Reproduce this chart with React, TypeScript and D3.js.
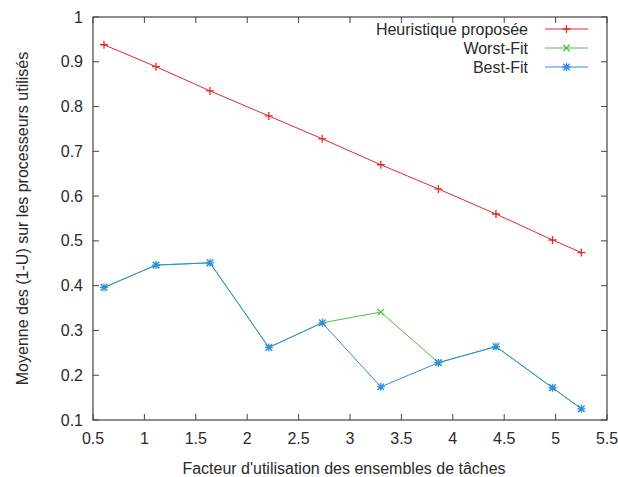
import React from "react";
import * as d3 from "d3";

const xValues = [0.607, 1.113, 1.638, 2.21, 2.73, 3.3, 3.86, 4.42, 4.97, 5.25];
const heuristique = [0.938, 0.889, 0.835, 0.779, 0.728, 0.670, 0.616, 0.560, 0.502, 0.474];
const worstFit = [0.396, 0.446, 0.451, 0.262, 0.317, 0.341, 0.228, 0.264, 0.172, 0.125];
const bestFit = [0.396, 0.446, 0.451, 0.262, 0.317, 0.174, 0.228, 0.264, 0.172, 0.125];
const xTicks = [0.5, 1, 1.5, 2, 2.5, 3, 3.5, 4, 4.5, 5, 5.5];
const yTicks = [0.1, 0.2, 0.3, 0.4, 0.5, 0.6, 0.7, 0.8, 0.9, 1];
const seriesNames = ["Heuristique proposée", "Worst-Fit", "Best-Fit"];
const seriesColors = ["#e3282b", "#4bbf45", "#2f8fe0"];
const markerTypes = ["plus", "cross", "star"];

const W = 618, H = 477;
const M = { left: 93, right: 11, top: 17, bottom: 57 };
const FONT = "'Liberation Sans', Arial, sans-serif";
const FS = 16;

function Marker({ type, x, y, color }: { type: string; x: number; y: number; color: string }) {
  const s = 4;
  const d: string[] = [];
  if (type === "plus" || type === "star") {
    d.push(`M${x - s},${y}H${x + s}M${x},${y - s}V${y + s}`);
  }
  if (type === "cross" || type === "star") {
    const c = s * 0.8;
    d.push(`M${x - c},${y - c}L${x + c},${y + c}M${x - c},${y + c}L${x + c},${y - c}`);
  }
  return <path d={d.join("")} stroke={color} strokeWidth={1.3} fill="none" />;
}

export default function App() {
  const x = d3.scaleLinear().domain([0.5, 5.5]).range([M.left, W - M.right]);
  const y = d3.scaleLinear().domain([0.1, 1]).range([H - M.bottom, M.top]);
  const series = [heuristique, worstFit, bestFit];
  const line = d3
    .line<number>()
    .x((_, i) => x(xValues[i]))
    .y((v) => y(v));
  const x0 = M.left, x1 = W - M.right, y0 = H - M.bottom, y1 = M.top;
  const tick = 6;
  const axisColor = "#444";
  const textColor = "#2a2a2a";
  return (
    <svg width={W} height={H} style={{ position: "absolute", left: 0, top: 0, background: "#fff" }} fontFamily={FONT}>
      <rect x={0} y={0} width={W} height={H} fill="#fff" />
      {xTicks.map((t) => (
        <g key={"xt" + t}>
          <line x1={x(t)} x2={x(t)} y1={y0} y2={y0 - tick} stroke={axisColor} />
          <line x1={x(t)} x2={x(t)} y1={y1} y2={y1 + tick} stroke={axisColor} />
          <text x={x(t)} y={y0 + 24} textAnchor="middle" fontSize={FS} fill={textColor}>
            {String(t)}
          </text>
        </g>
      ))}
      {yTicks.map((t) => (
        <g key={"yt" + t}>
          <line x1={x0} x2={x0 + tick} y1={y(t)} y2={y(t)} stroke={axisColor} />
          <line x1={x1} x2={x1 - tick} y1={y(t)} y2={y(t)} stroke={axisColor} />
          <text x={x0 - 10} y={y(t) + 5.5} textAnchor="end" fontSize={FS} fill={textColor}>
            {String(t)}
          </text>
        </g>
      ))}
      <rect x={x0} y={y1} width={x1 - x0} height={y0 - y1} fill="none" stroke={axisColor} strokeWidth={1.2} />
      {series.map((s, i) => (
        <g key={"s" + i}>
          <path d={line(s) || ""} fill="none" stroke={seriesColors[i]} strokeWidth={1} />
          {s.map((v, j) => (
            <Marker key={j} type={markerTypes[i]} x={x(xValues[j])} y={y(v)} color={seriesColors[i]} />
          ))}
        </g>
      ))}
      {seriesNames.map((n, i) => {
        const ly = 29 + i * 19;
        return (
          <g key={"lg" + i}>
            <text x={528} y={ly + 5.5} textAnchor="end" fontSize={FS} fill={textColor}>
              {n}
            </text>
            <line x1={545} x2={588} y1={ly} y2={ly} stroke={seriesColors[i]} strokeWidth={1} />
            <Marker type={markerTypes[i]} x={566.5} y={ly} color={seriesColors[i]} />
          </g>
        );
      })}
      <text x={344} y={474} textAnchor="middle" fontSize={FS} fill={textColor}>
        Facteur d'utilisation des ensembles de tâches
      </text>
      <text
        transform={`translate(28,${(y0 + y1) / 2}) rotate(-90)`}
        textAnchor="middle"
        fontSize={FS}
        fill={textColor}
      >
        Moyenne des (1-U) sur les processeurs utilisés
      </text>
    </svg>
  );
}
